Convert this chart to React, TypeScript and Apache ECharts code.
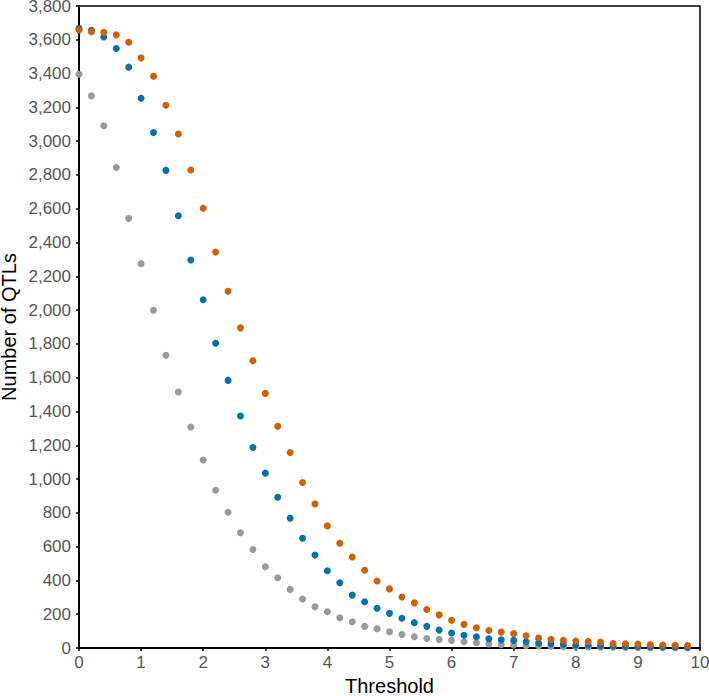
import React, { useEffect, useRef } from "react";
import * as echarts from "echarts";

const thresholds = [
  0, 0.2, 0.4, 0.6, 0.8, 1.0, 1.2, 1.4, 1.6, 1.8,
  2.0, 2.2, 2.4, 2.6, 2.8, 3.0, 3.2, 3.4, 3.6, 3.8,
  4.0, 4.2, 4.4, 4.6, 4.8, 5.0, 5.2, 5.4, 5.6, 5.8,
  6.0, 6.2, 6.4, 6.6, 6.8, 7.0, 7.2, 7.4, 7.6, 7.8,
  8.0, 8.2, 8.4, 8.6, 8.8, 9.0, 9.2, 9.4, 9.6, 9.8,
];

const grayValues = [
  3396, 3268, 3091, 2844, 2543, 2275, 1999, 1733, 1515, 1308,
  1113, 934, 804, 682, 583, 481, 416, 347, 290, 244,
  215, 179, 155, 128, 114, 96, 80, 67, 56, 51,
  45, 37, 31, 24, 20, 18, 14, 12, 10, 8,
  7, 6, 5, 4, 3, 3, 2, 2, 1, 1,
];

const blueValues = [
  3668, 3656, 3617, 3548, 3438, 3254, 3051, 2827, 2559, 2297,
  2061, 1804, 1584, 1373, 1187, 1035, 892, 768, 650, 550,
  457, 386, 313, 274, 235, 205, 176, 150, 128, 106,
  89, 75, 67, 55, 49, 45, 37, 30, 26, 22,
  18, 16, 15, 12, 10, 9, 8, 7, 6, 5,
];

const orangeValues = [
  3658, 3648, 3644, 3629, 3585, 3493, 3384, 3213, 3042, 2829,
  2603, 2344, 2112, 1895, 1700, 1507, 1312, 1157, 980, 853,
  723, 620, 539, 460, 397, 350, 302, 267, 228, 196,
  164, 140, 120, 104, 94, 85, 73, 59, 51, 45,
  41, 39, 35, 27, 25, 23, 20, 18, 16, 15,
];

const FONT = "'Liberation Sans', Arial, Helvetica, sans-serif";

function pairs(values: number[]) {
  return thresholds.map((t, i) => [t, values[i]]);
}

export default function App() {
  const ref = useRef<HTMLDivElement>(null);
  useEffect(() => {
    if (!ref.current) return;
    const chart = echarts.init(ref.current, undefined, { renderer: "svg" });
    const mk = (name: string, color: string, values: number[]) => ({
      name,
      type: "scatter",
      data: pairs(values),
      symbolSize: 7,
      itemStyle: { color, opacity: 1 },
      clip: false,
    });
    chart.setOption({
      animation: false,
      backgroundColor: "#ffffff",
      grid: {
        left: 79,
        right: 9,
        top: 6,
        bottom: 48,
        containLabel: false,
        outerBoundsMode: "none",
        show: true,
        borderColor: "#000",
        borderWidth: 1.5,
        backgroundColor: "transparent",
      },
      xAxis: {
        type: "value",
        min: 0,
        max: 10,
        interval: 1,
        name: "Threshold",
        nameLocation: "middle",
        nameGap: 31,
        nameMoveOverlap: false,
        nameTextStyle: { color: "#000", fontSize: 20, fontFamily: FONT, lineHeight: 14 },
        axisLine: { show: true, onZero: false, lineStyle: { color: "#000", width: 2 } },
        axisTick: { show: true, length: 3, lineStyle: { color: "#000", width: 1.5 } },
        axisLabel: { color: "#555", fontSize: 17, fontFamily: FONT, margin: 6 },
        splitLine: { show: false },
      },
      yAxis: {
        type: "value",
        min: 0,
        max: 3800,
        interval: 200,
        name: "Number of QTLs",
        nameLocation: "middle",
        nameGap: 61,
        nameMoveOverlap: false,
        nameTextStyle: { color: "#000", fontSize: 20, fontFamily: FONT, lineHeight: 18 },
        axisLine: { show: true, onZero: false, lineStyle: { color: "#000", width: 2 } },
        axisTick: { show: true, length: 3, lineStyle: { color: "#000", width: 1.5 } },
        axisLabel: {
          color: "#555",
          fontSize: 17,
          fontFamily: FONT,
          margin: 8,
          lineHeight: 12,
          formatter: (v: number) => v.toLocaleString("en-US"),
        },
        splitLine: { show: false },
      },
      series: [
        mk("gray", "#999999", grayValues),
        mk("blue", "#0072B2", blueValues),
        mk("orange", "#D55E00", orangeValues),
      ],
    });
    return () => chart.dispose();
  }, []);
  return (
    <div
      ref={ref}
      style={{ position: "fixed", left: 0, top: 0, width: 709, height: 696 }}
    />
  );
}
